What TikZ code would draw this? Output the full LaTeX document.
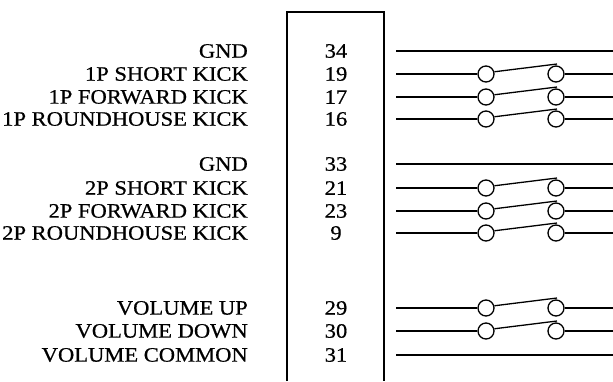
\documentclass[tikz,border=0pt]{standalone}
\usepackage{fontspec}
\setmainfont[FakeStretch=1.1, FakeBold=0.6]{Liberation Serif}

\tikzset{
	wire/.style={line width=1.3pt},
	contact/.style={circle, draw, line width=1.3pt, minimum size=16pt, inner sep=0pt},
	label/.style={anchor=east, inner sep=0pt, font=\fontsize{20.5}{20.5}\selectfont},
	pin/.style={inner sep=0pt, font=\fontsize{20.5}{20.5}\selectfont}
}

\begin{document}
\begin{tikzpicture}[x=1pt, y=-1pt]
			\useasboundingbox (0,0) rectangle (613,381);
			
			% Draw the connector housing (open at the bottom)
			\draw[wire] (287,381) -- (287,12) -- (384,12) -- (384,381);
			
			% Define nodes for every row: label, pin number and wire ends
			\foreach \y/\name/\num/\sw [count=\i] in {
				51/GND/34/0, 74/1P SHORT KICK/19/1, 97/1P FORWARD KICK/17/1, 119/1P ROUNDHOUSE KICK/16/1,
				164/GND/33/0, 188/2P SHORT KICK/21/1, 211/2P FORWARD KICK/23/1, 233/2P ROUNDHOUSE KICK/9/1,
				308/VOLUME UP/29/1, 331/VOLUME DOWN/30/1, 355/VOLUME COMMON/31/0}
			{
				\node[label] (L\i) at (248,\y) {\name};
				\node[pin] (P\i) at (336,\y) {\num};
				\coordinate (S\i) at (396,\y);
				\coordinate (E\i) at (613,\y);
				
				% Draw the wire, with a switch where the row has one
				\ifnum\sw=1
					\node[contact] (A\i) at (486,\y) {};
					\node[contact] (B\i) at (556,\y) {};
					\coordinate (T\i) at (557,\y-10);
					\draw[wire] (S\i) -- (A\i);
					\draw[wire] (A\i.15) -- (T\i);
					\draw[wire] (B\i) -- (E\i);
				\else
					\draw[wire] (S\i) -- (E\i);
				\fi
			}
		\end{tikzpicture}
\end{document}
